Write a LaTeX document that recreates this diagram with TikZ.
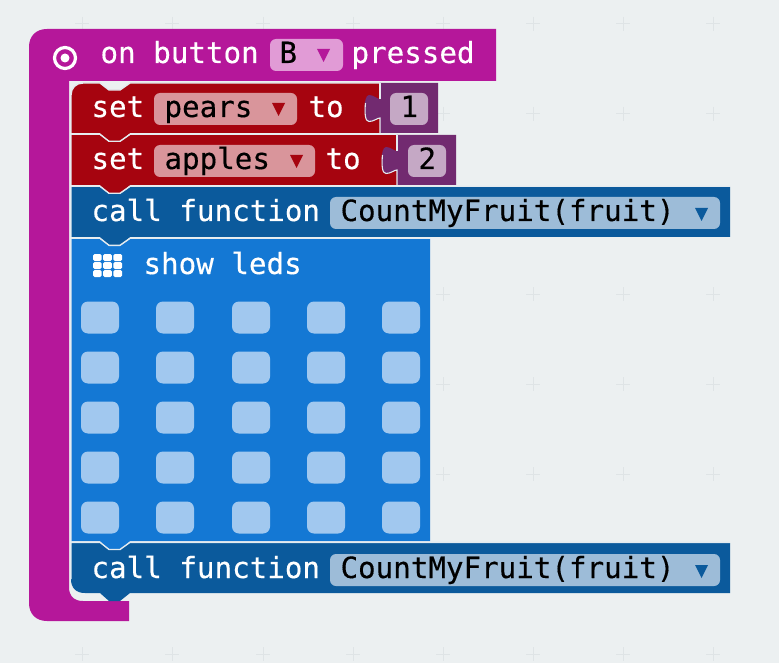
\documentclass[tikz,border=0pt]{standalone}
\usepackage{fontspec}
\setmainfont[FakeBold=0.35]{DejaVu Sans Mono}
\definecolor{bgc}{HTML}{ECF0F1}
\definecolor{gridc}{HTML}{DFE4E6}
\definecolor{magc}{HTML}{B5179A}
\definecolor{magf}{HTML}{E19BD6}
\definecolor{redc}{HTML}{A6040F}
\definecolor{redf}{HTML}{D9959B}
\definecolor{purc}{HTML}{722A70}
\definecolor{purf}{HTML}{C5A8C5}
\definecolor{bluec}{HTML}{0B5A9C}
\definecolor{bluef}{HTML}{9DBCD8}
\definecolor{ledc}{HTML}{1478D4}
\definecolor{ledf}{HTML}{A1C8EF}
\definecolor{edgec}{HTML}{E4EBF0}
\tikzset{
  lbl/.style={anchor=base west,inner sep=0pt,outer sep=0pt,font=\fontsize{29.2}{30}\selectfont},
  wlbl/.style={lbl,text=white},
  klbl/.style={lbl,text=black},
  field/.style={rounded corners=6pt},
  edgeline/.style={draw=edgec,line width=1.4pt},
}
% #1 colour, #2 x right, #3 y top, #4 y bottom
\newcommand{\stackblock}[4]{%
  \fill[#1] (71,#3) -- (100,#3) -- (109,{#3+7}) -- (120,{#3+7}) -- (130,#3) -- (#2,#3) -- (#2,#4)
     -- (130,#4) -- (120,{#4+8}) -- (109,{#4+8}) -- (100,#4) -- (71,#4) -- cycle;
}
\newcommand{\topline}[3]{%
  \draw[edgeline] (71,#3) -- (71,#2) -- (100,#2) -- (109,{#2+7}) -- (120,{#2+7}) -- (130,#2) -- (#1,#2);
}
\newcommand{\downtri}[3]{\fill[#1] (#2,#3) -- ({#2+13},#3) -- ({#2+6.5},{#3+13}) -- cycle;}
% #1 x of joint, #2 x right, #3 y top
\newcommand{\valueblock}[3]{%
  \fill[purc] (#1,#3) -- (#2,#3) -- (#2,{#3+50}) -- (#1,{#3+50}) -- (#1,{#3+35})
     .. controls ({#1-3},{#3+35}) and ({#1-6},{#3+38.5}) .. ({#1-11},{#3+38.5})
     .. controls ({#1-17},{#3+38.5}) and ({#1-17},{#3+12}) .. ({#1-11},{#3+12})
     .. controls ({#1-6},{#3+12}) and ({#1-3},{#3+16}) .. (#1,{#3+16}) -- cycle;
  \draw[edgec,line width=1.1pt] (#1,#3) -- (#1,{#3+16});
  \draw[edgec,line width=1.1pt] ({#1-14.5},{#3+20})
     .. controls ({#1-15.5},{#3+30}) and ({#1-15},{#3+38.5}) .. ({#1-11},{#3+38.5})
     .. controls ({#1-6},{#3+38.5}) and ({#1-3},{#3+35}) .. (#1,{#3+35}) -- (#1,{#3+50});
}
\begin{document}
\begin{tikzpicture}[x=1pt,y=-1pt]
\useasboundingbox (0,0) rectangle (779,663);
\fill[bgc] (0,0) rectangle (779,663);
% workspace grid
\foreach \gx in {82,172,263,353,443,533,623,713}
  \foreach \gy in {24,114,204,294,384,474,564,654}
    \draw[gridc,line width=1pt] (\gx-7,\gy) -- (\gx+7,\gy) (\gx,\gy-7) -- (\gx,\gy+7);
% event block
\fill[magc] (29,47) .. controls (29,36) and (36,29) .. (47,29) -- (496,29) -- (496,81) -- (69,81)
   -- (69,587) .. controls (69,596) and (74,601) .. (83,601) -- (129,601) -- (129,621) -- (47,621)
   .. controls (36,621) and (29,614) .. (29,603) -- cycle;
\node[wlbl] (on) at (100.5,63) {on button};
\fill[magf,field] (270,39) rectangle (343,71);
\node[klbl] (bval) at (279.5,63) {B};
\downtri{magc}{317}{49}
\node[wlbl] (pressed) at (351.5,63) {pressed};
\draw[white,line width=3.2pt] (65,58) circle[radius=10.5];
\fill[white] (65,58) circle[radius=4.5];
% set pears
\fill[redc] (71,133) -- (71,95) .. controls (71,88) and (76,83) .. (83,83) -- (100,83) -- (109,90) -- (120,90) -- (130,83)
   -- (380,83) -- (380,133) -- (130,133) -- (120,141) -- (109,141) -- (100,133) -- cycle;
\draw[edgeline] (71,133) -- (71,95) .. controls (71,88) and (76,83) .. (83,83) -- (100,83) -- (109,90) -- (120,90) -- (130,83) -- (380,83);
\node[wlbl] (set1) at (91.5,117) {set};
\fill[redf,field] (154,93) rectangle (297,125);
\node[klbl] (pears) at (164.5,117) {pears};
\downtri{redc}{272}{103}
\node[wlbl] (to1) at (308.5,117) {to};
\valueblock{380}{438}{83}
\fill[purf,field] (390,93) rectangle (428,125);
\node[klbl] (one) at (400.5,117) {1};
% set apples
\stackblock{redc}{397}{135}{185}
\fill[redc] (100,133) -- (109,141) -- (120,141) -- (130,133) -- cycle;
\topline{397}{134.3}{185}
\node[wlbl] (set2) at (91.5,169) {set};
\fill[redf,field] (154,145) rectangle (315,177);
\node[klbl] (apples) at (164.5,169) {apples};
\downtri{redc}{290}{155}
\node[wlbl] (to2) at (325.5,169) {to};
\valueblock{397}{456}{135}
\fill[purf,field] (408,145) rectangle (446,177);
\node[klbl] (two) at (418.5,169) {2};
% call function 1
\stackblock{bluec}{730}{187}{237}
\fill[redc] (100,185) -- (109,193) -- (120,193) -- (130,185) -- cycle;
\topline{730}{186.3}{237}
\node[wlbl] (call1) at (91.5,221) {call function};
\fill[bluef,field] (330,197) rectangle (720,229);
\node[klbl] (fn1) at (340.5,221) {CountMyFruit(fruit)};
\downtri{bluec}{695}{208}
% show leds
\stackblock{ledc}{430}{239}{541}
\fill[bluec] (100,237) -- (109,245) -- (120,245) -- (130,237) -- cycle;
\topline{430}{238.3}{541}
\foreach \ix in {0,1,2}
  \foreach \iy in {0,1,2}
    \fill[white,rounded corners=1.5pt] ({93+10.2*\ix},{254+8*\iy}) rectangle ++(8.6,7);
\node[wlbl] (show) at (143.5,274) {show leds};
\foreach \lx in {81,156,232,307,382}
  \foreach \ly in {301.5,351.5,401.5,451.5,501.5}
    \fill[ledf,rounded corners=7pt] (\lx,\ly) rectangle ++(38,32);
% call function 2
\fill[bluec] (71,543) -- (730,543) -- (730,593) -- (130,593) -- (120,601) -- (109,601) -- (100,593) -- (85,593)
   .. controls (76,593) and (71,588) .. (71,579) -- cycle;
\fill[ledc] (100,541) -- (109,549.5) -- (120,549.5) -- (130,541) -- cycle;
\draw[edgeline] (71,579) -- (71,542.3) -- (100,542.3) -- (109,549.5) -- (120,549.5) -- (130,542.3) -- (730,542.3);
\node[wlbl] (call2) at (91.5,578) {call function};
\fill[bluef,field] (330,554) rectangle (720,586);
\node[klbl] (fn2) at (340.5,578) {CountMyFruit(fruit)};
\downtri{bluec}{695}{565}
\end{tikzpicture}
\end{document}
